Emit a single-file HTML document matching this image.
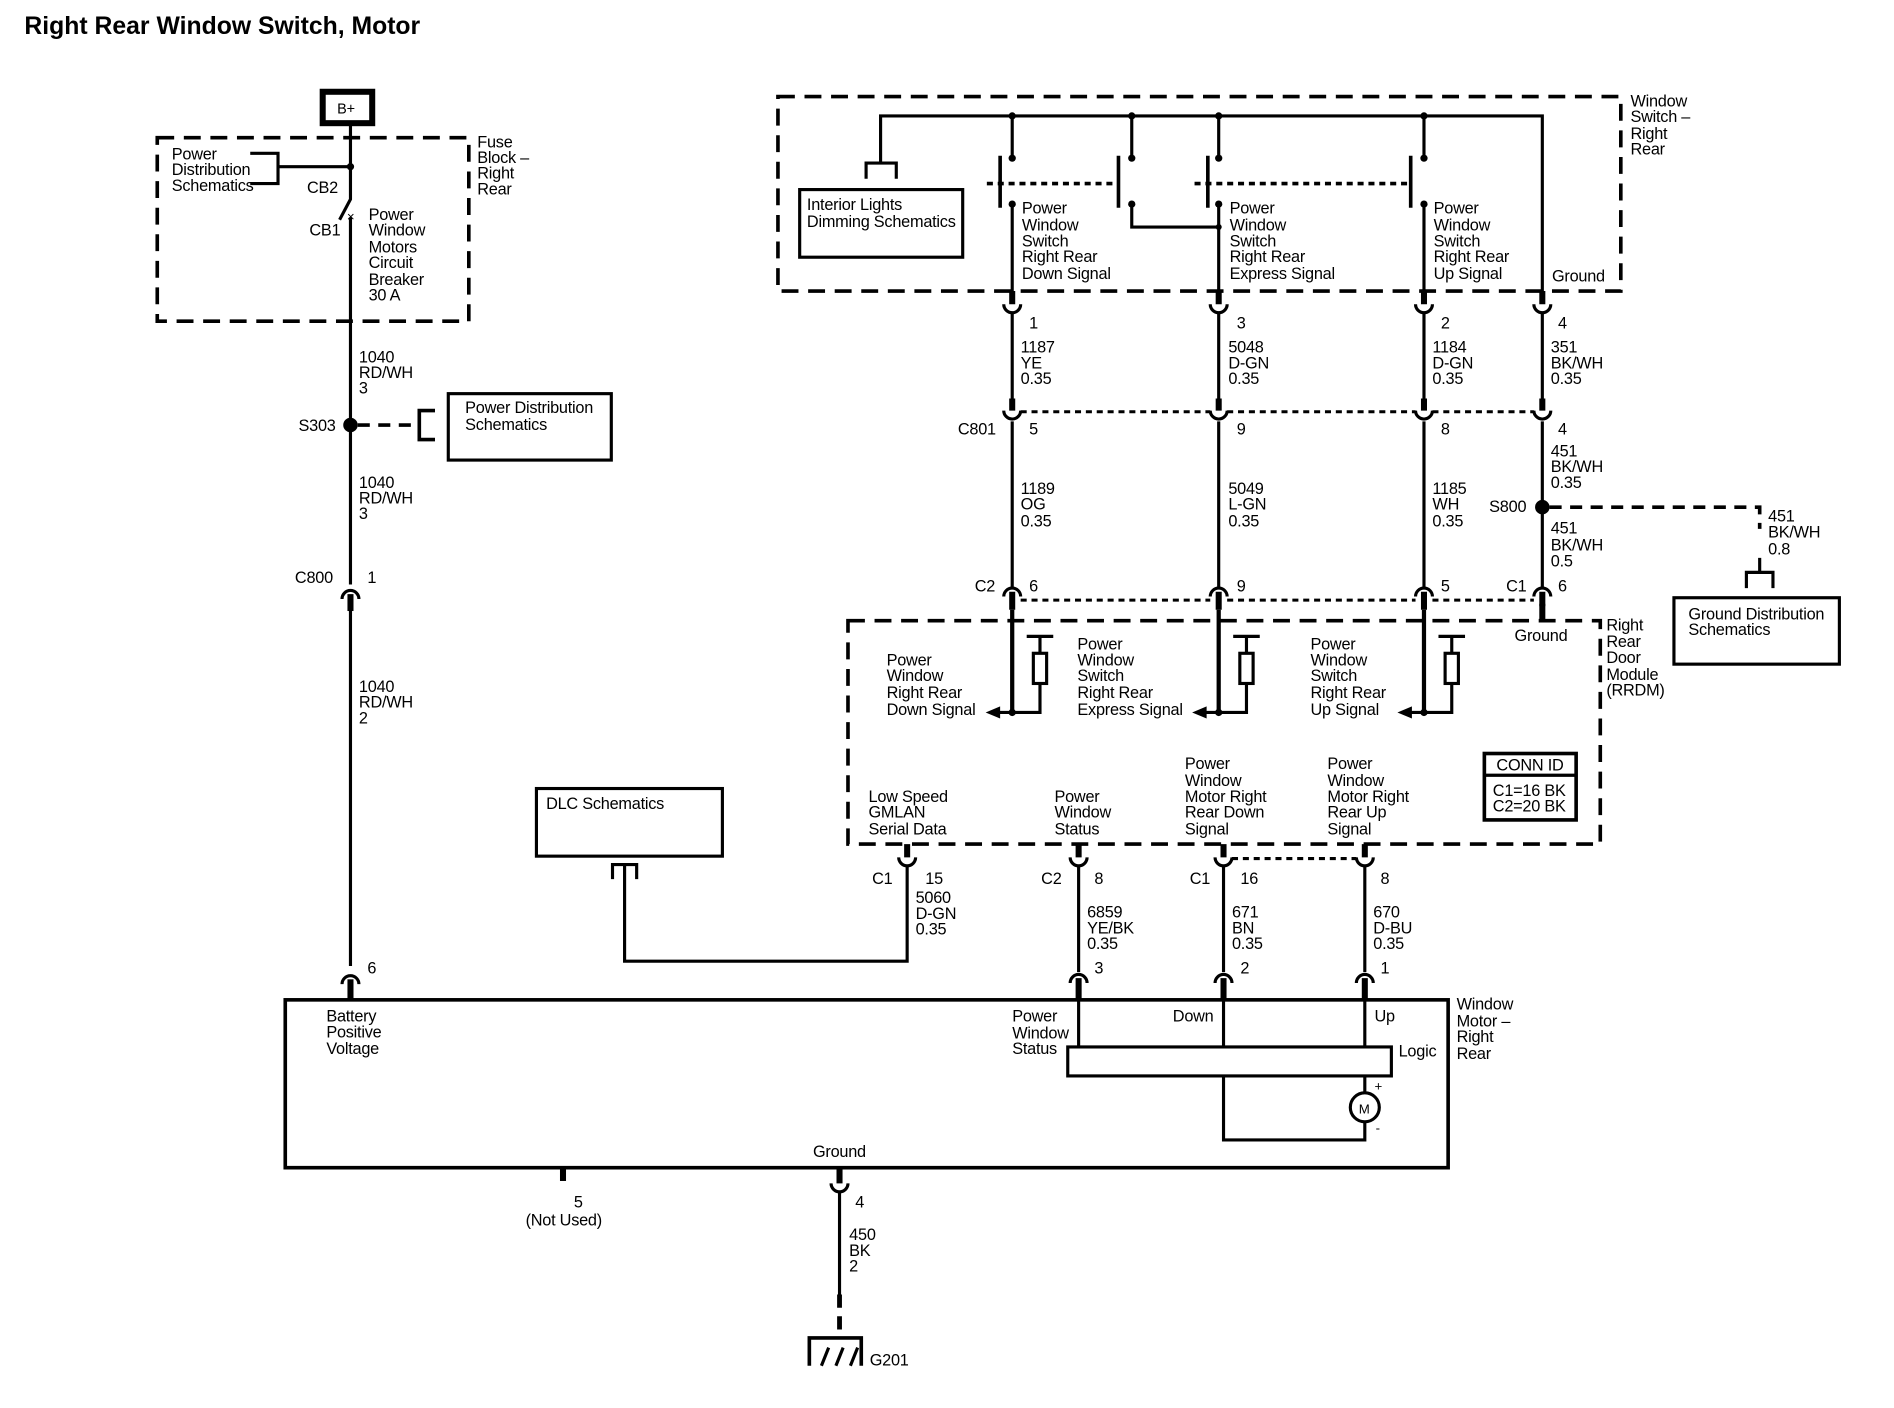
<!DOCTYPE html>
<html><head><meta charset="utf-8"><style>
html,body{margin:0;padding:0;background:#fff;}
svg{display:block;}
text{font-family:"Liberation Sans",sans-serif;font-size:13.5px;letter-spacing:-0.2px;fill:#000;}
.w{stroke:#000;stroke-width:2.6;fill:none;}
.s{stroke:#000;stroke-width:5;fill:none;}
.d{stroke:#000;stroke-width:3;fill:none;stroke-dasharray:14 8;}
.o{stroke:#000;stroke-width:2.5;fill:none;stroke-dasharray:5 4;}
.b{stroke:#000;stroke-width:2.6;fill:#fff;}
</style></head><body>
<svg width="1894" height="1408" viewBox="0 0 1568 1166" xmlns="http://www.w3.org/2000/svg">
<text x="20" y="28" style="font-size:20.5px;font-weight:bold;letter-spacing:0px">Right Rear Window Switch, Motor</text>

<!-- B+ -->
<rect x="267" y="76" width="41" height="26" fill="#fff" stroke="#000" stroke-width="5"/>
<text x="279" y="94" style="font-size:12px">B+</text>

<!-- Fuse block -->
<rect x="130" y="114" width="258" height="152" class="d"/>
<text x="395" y="122">Fuse</text><text x="395" y="135">Block –</text><text x="395" y="148">Right</text><text x="395" y="161">Rear</text>
<text x="142" y="132">Power</text><text x="142" y="145">Distribution</text><text x="142" y="158">Schematics</text>
<path d="M207,127 H230 V152 H207" class="w"/>
<path d="M230,138 H290" class="w"/>
<circle cx="290" cy="138" r="3"/>
<path d="M290,102 V165 L281,182" class="w"/>
<text x="254" y="160">CB2</text><text x="256" y="195">CB1</text>
<text x="287" y="183" style="font-size:11px">×</text>
<path d="M290,180 V484" class="w"/>
<text x="305" y="182">Power</text><text x="305" y="195">Window</text><text x="305" y="209">Motors</text><text x="305" y="222">Circuit</text><text x="305" y="236">Breaker</text><text x="305" y="249">30 A</text>
<text x="297" y="300">1040</text><text x="297" y="313">RD/WH</text><text x="297" y="326">3</text>
<circle cx="290" cy="352" r="6"/>
<text x="247" y="357">S303</text>
<path d="M296,352 H347" class="d" style="stroke-dasharray:10 7"/>
<path d="M360,340 H347 V364 H360" class="w" style="stroke-width:3"/>
<rect x="371" y="326" width="135" height="55" class="b"/>
<text x="385" y="342">Power Distribution</text><text x="385" y="356">Schematics</text>
<text x="297" y="404">1040</text><text x="297" y="417">RD/WH</text><text x="297" y="430">3</text>
<!-- C800 -->
<text x="244" y="483">C800</text><text x="304" y="483">1</text>
<path d="M283,496 A7,7 0 0 1 297,496" class="w"/>
<path d="M290,492 V506" class="s"/>
<path d="M290,506 V800" class="w"/>
<text x="297" y="573">1040</text><text x="297" y="586">RD/WH</text><text x="297" y="599">2</text>
<text x="304" y="806">6</text>
<path d="M283,815 A7,7 0 0 1 297,815" class="w"/>
<path d="M290,811 V828" class="s"/>

<!-- Motor box -->
<rect x="236" y="828" width="963" height="139" fill="none" stroke="#000" stroke-width="3"/>
<text x="270" y="846">Battery</text><text x="270" y="859">Positive</text><text x="270" y="873">Voltage</text>
<text x="673" y="958">Ground</text>
<text x="838" y="846">Power</text><text x="838" y="860">Window</text><text x="838" y="873">Status</text>
<text x="971" y="846">Down</text><text x="1138" y="846">Up</text><text x="1158" y="875">Logic</text>
<text x="1206" y="836">Window</text><text x="1206" y="850">Motor –</text><text x="1206" y="863">Right</text><text x="1206" y="877">Rear</text>
<path d="M893,828 V867 M1013,828 V867 M1130,828 V867" class="w"/>
<rect x="884" y="867" width="268" height="24" class="b"/>
<path d="M1013,891 V944 H1130 V929 M1130,891 V905" class="w"/>
<circle cx="1130" cy="917" r="12" class="b"/>
<text x="1125" y="922" style="font-size:11px">M</text>
<text x="1138" y="903" style="font-size:11px">+</text><text x="1139" y="938" style="font-size:11px">-</text>
<path d="M466,967 V978" class="s"/>
<text x="475" y="1000">5</text><text x="435" y="1015">(Not Used)</text>
<path d="M695,967 V980" class="s"/>
<path d="M688,980 A7,7 0 0 0 702,980" class="w"/>
<path d="M695,987 V1072" class="w"/>
<path d="M695,1072 V1107" class="s" style="stroke-width:4;stroke-dasharray:11 7"/>
<text x="708" y="1000">4</text>
<text x="703" y="1027">450</text><text x="703" y="1040">BK</text><text x="703" y="1053">2</text>
<path d="M670,1131 V1108 H713 V1131" class="w" style="stroke-width:3"/>
<path d="M680,1131 L686,1116 M692,1131 L698,1116 M704,1131 L710,1116" class="w"/>
<text x="720" y="1131">G201</text>

<!-- DLC -->
<rect x="444" y="653" width="154" height="56" class="b"/>
<text x="452" y="670">DLC Schematics</text>
<path d="M507,728 V716 H527 V728" class="w"/>
<path d="M517,716 V796 H751 V718" class="w"/>

<!-- RRDM -->
<rect x="702" y="514" width="623" height="185" class="d"/>
<text x="1330" y="522">Right</text><text x="1330" y="536">Rear</text><text x="1330" y="549">Door</text><text x="1330" y="563">Module</text><text x="1330" y="576">(RRDM)</text>
<rect x="1229" y="624" width="76" height="55" fill="none" stroke="#000" stroke-width="3"/>
<path d="M1229,642 H1305" class="w"/>
<text x="1239" y="638">CONN ID</text><text x="1236" y="659">C1=16 BK</text><text x="1236" y="672">C2=20 BK</text>
<text x="719" y="664">Low Speed</text><text x="719" y="677">GMLAN</text><text x="719" y="691">Serial Data</text>
<text x="873" y="664">Power</text><text x="873" y="677">Window</text><text x="873" y="691">Status</text>
<text x="981" y="637">Power</text><text x="981" y="651">Window</text><text x="981" y="664">Motor Right</text><text x="981" y="677">Rear Down</text><text x="981" y="691">Signal</text>
<text x="1099" y="637">Power</text><text x="1099" y="651">Window</text><text x="1099" y="664">Motor Right</text><text x="1099" y="677">Rear Up</text><text x="1099" y="691">Signal</text>
<g>
<path d="M751,699 V710 M893,699 V710 M1013,699 V710 M1130,699 V710" class="s"/>
<path d="M744,710 A7,7 0 0 0 758,710 M886,710 A7,7 0 0 0 900,710 M1006,710 A7,7 0 0 0 1020,710 M1123,710 A7,7 0 0 0 1137,710" class="w"/>
<path d="M1020,711 H1123" class="o"/>
<path d="M893,717 V805 M1013,717 V805 M1130,717 V805" class="w"/>
<path d="M886,814 A7,7 0 0 1 900,814 M1006,814 A7,7 0 0 1 1020,814 M1123,814 A7,7 0 0 1 1137,814" class="w"/>
<path d="M893,810 V828 M1013,810 V828 M1130,810 V828" class="s"/>
</g>
<text x="722" y="732">C1</text><text x="766" y="732">15</text>
<text x="758" y="748">5060</text><text x="758" y="761">D-GN</text><text x="758" y="774">0.35</text>
<text x="862" y="732">C2</text><text x="906" y="732">8</text>
<text x="985" y="732">C1</text><text x="1027" y="732">16</text><text x="1143" y="732">8</text>
<text x="900" y="760">6859</text><text x="900" y="773">YE/BK</text><text x="900" y="786">0.35</text>
<text x="1020" y="760">671</text><text x="1020" y="773">BN</text><text x="1020" y="786">0.35</text>
<text x="1137" y="760">670</text><text x="1137" y="773">D-BU</text><text x="1137" y="786">0.35</text>
<text x="906" y="806">3</text><text x="1027" y="806">2</text><text x="1143" y="806">1</text>

<!-- module inputs -->
<path d="M838,505 V590 M1009,505 V590 M1179,505 V590" class="s" style="stroke-width:3.5"/>
<g class="w">
<path d="M850,527 H872 M861,527 V541 M861,566 V590 H838 H826"/>
<path d="M1021,527 H1043 M1032,527 V541 M1032,566 V590 H1009 H997"/>
<path d="M1191,527 H1213 M1202,527 V541 M1202,566 V590 H1179 H1167"/>
</g>
<rect x="855.5" y="541" width="11" height="25" class="b"/>
<rect x="1026.5" y="541" width="11" height="25" class="b"/>
<rect x="1196.5" y="541" width="11" height="25" class="b"/>
<path d="M816,590 L828,585 L828,595 Z M987,590 L999,585 L999,595 Z M1157,590 L1169,585 L1169,595 Z"/>
<circle cx="838" cy="590" r="3"/><circle cx="1009" cy="590" r="3"/><circle cx="1179" cy="590" r="3"/>
<text x="734" y="551">Power</text><text x="734" y="564">Window</text><text x="734" y="578">Right Rear</text><text x="734" y="592">Down Signal</text>
<text x="892" y="538">Power</text><text x="892" y="551">Window</text><text x="892" y="564">Switch</text><text x="892" y="578">Right Rear</text><text x="892" y="592">Express Signal</text>
<text x="1085" y="538">Power</text><text x="1085" y="551">Window</text><text x="1085" y="564">Switch</text><text x="1085" y="578">Right Rear</text><text x="1085" y="592">Up Signal</text>
<text x="1254" y="531">Ground</text>
<path d="M1277,500 V514" class="s"/>

<!-- C2/C1 row -->
<path d="M831,494 A7,7 0 0 1 845,494 M1002,494 A7,7 0 0 1 1016,494 M1172,494 A7,7 0 0 1 1186,494 M1270,494 A7,7 0 0 1 1284,494" class="w"/>
<path d="M838,490 V505 M1009,490 V505 M1179,490 V505 M1277,490 V502" class="s"/>
<path d="M845,497 H1002 M1016,497 H1172 M1186,497 H1270" class="o"/>
<text x="807" y="490">C2</text><text x="852" y="490">6</text><text x="1024" y="490">9</text><text x="1193" y="490">5</text><text x="1247" y="490">C1</text><text x="1290" y="490">6</text>

<path d="M838,349 V487 M1009,349 V487 M1179,349 V487 M1277,349 V487" class="w"/>
<text x="845" y="409">1189</text><text x="845" y="422">OG</text><text x="845" y="436">0.35</text>
<text x="1017" y="409">5049</text><text x="1017" y="422">L-GN</text><text x="1017" y="436">0.35</text>
<text x="1186" y="409">1185</text><text x="1186" y="422">WH</text><text x="1186" y="436">0.35</text>
<text x="1284" y="378">451</text><text x="1284" y="391">BK/WH</text><text x="1284" y="404">0.35</text>
<text x="1284" y="442">451</text><text x="1284" y="456">BK/WH</text><text x="1284" y="469">0.5</text>
<circle cx="1277" cy="420" r="6"/>
<text x="1233" y="424">S800</text>
<path d="M1283,420 H1457 V438" class="d" style="stroke-dasharray:10 7"/>
<text x="1464" y="432">451</text><text x="1464" y="445">BK/WH</text><text x="1464" y="459">0.8</text>
<path d="M1446,487 V474 H1468 V487 M1457,474 V462" class="w"/>
<rect x="1386" y="495" width="137" height="55" class="b"/>
<text x="1398" y="513">Ground Distribution</text><text x="1398" y="526">Schematics</text>

<!-- C801 row -->
<path d="M838,330 V340 M1009,330 V340 M1179,330 V340 M1277,330 V340" class="s"/>
<path d="M831,340 A7,7 0 0 0 845,340 M1002,340 A7,7 0 0 0 1016,340 M1172,340 A7,7 0 0 0 1186,340 M1270,340 A7,7 0 0 0 1284,340" class="w"/>
<path d="M845,341 H1002 M1016,341 H1172 M1186,341 H1270" class="o"/>
<text x="793" y="360">C801</text><text x="852" y="360">5</text><text x="1024" y="360">9</text><text x="1193" y="360">8</text><text x="1290" y="360">4</text>

<path d="M838,259 V330 M1009,259 V330 M1179,259 V330 M1277,259 V330" class="w"/>
<text x="845" y="292">1187</text><text x="845" y="305">YE</text><text x="845" y="318">0.35</text>
<text x="1017" y="292">5048</text><text x="1017" y="305">D-GN</text><text x="1017" y="318">0.35</text>
<text x="1186" y="292">1184</text><text x="1186" y="305">D-GN</text><text x="1186" y="318">0.35</text>
<text x="1284" y="292">351</text><text x="1284" y="305">BK/WH</text><text x="1284" y="318">0.35</text>
<text x="852" y="272">1</text><text x="1024" y="272">3</text><text x="1193" y="272">2</text><text x="1290" y="272">4</text>
<path d="M838,241 V252 M1009,241 V252 M1179,241 V252 M1277,241 V252" class="s"/>
<path d="M831,252 A7,7 0 0 0 845,252 M1002,252 A7,7 0 0 0 1016,252 M1172,252 A7,7 0 0 0 1186,252 M1270,252 A7,7 0 0 0 1284,252" class="w"/>

<!-- Window switch box -->
<rect x="644" y="80" width="698" height="161" class="d"/>
<text x="1350" y="88">Window</text><text x="1350" y="101">Switch –</text><text x="1350" y="115">Right</text><text x="1350" y="128">Rear</text>
<path d="M729,135 V96 H1277 V241" class="w"/>
<path d="M717,148 V135 H742 V148" class="w"/>
<rect x="662" y="157" width="135" height="56" class="b"/>
<text x="668" y="174">Interior Lights</text><text x="668" y="188">Dimming Schematics</text>
<g class="w">
<path d="M838,96 V131 M838,168 V241"/>
<path d="M937,96 V131 M937,168 V188 H1009"/>
<path d="M1009,96 V131 M1009,168 V241"/>
<path d="M1179,96 V131 M1179,168 V241"/>
<path d="M828,129 V172 M926,129 V172 M1000,129 V172 M1168,129 V172" style="stroke-width:3"/>
</g>
<path d="M817,152 H926 M989,152 H1168" class="o" style="stroke-width:3"/>
<g>
<circle cx="838" cy="96" r="3"/><circle cx="937" cy="96" r="3"/><circle cx="1009" cy="96" r="3"/><circle cx="1179" cy="96" r="3"/>
<circle cx="838" cy="131" r="3"/><circle cx="937" cy="131" r="3"/><circle cx="1009" cy="131" r="3"/><circle cx="1179" cy="131" r="3"/>
<circle cx="838" cy="169" r="3"/><circle cx="937" cy="169" r="3"/><circle cx="1009" cy="169" r="3"/><circle cx="1179" cy="169" r="3"/>
<circle cx="1009" cy="188" r="2.5"/>
</g>
<text x="846" y="177">Power</text><text x="846" y="191">Window</text><text x="846" y="204">Switch</text><text x="846" y="217">Right Rear</text><text x="846" y="231">Down Signal</text>
<text x="1018" y="177">Power</text><text x="1018" y="191">Window</text><text x="1018" y="204">Switch</text><text x="1018" y="217">Right Rear</text><text x="1018" y="231">Express Signal</text>
<text x="1187" y="177">Power</text><text x="1187" y="191">Window</text><text x="1187" y="204">Switch</text><text x="1187" y="217">Right Rear</text><text x="1187" y="231">Up Signal</text>
<text x="1285" y="233">Ground</text>
</svg>
</body></html>
